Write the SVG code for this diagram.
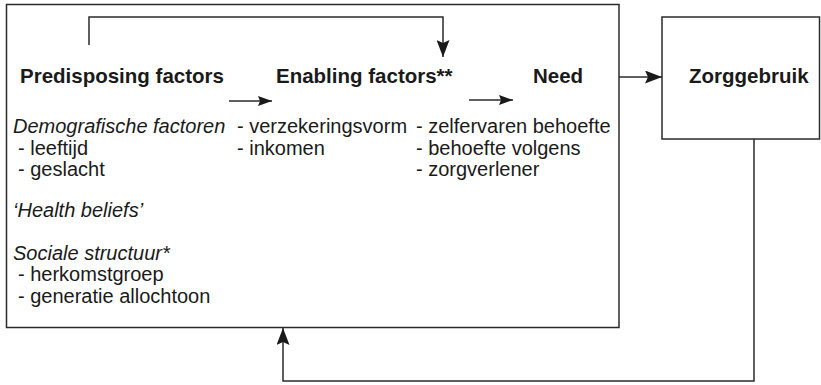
<svg xmlns="http://www.w3.org/2000/svg" width="821" height="385" viewBox="0 0 821 385">
<style>
.box{fill:#fff;stroke:#2b2b2b;stroke-width:1.5}
.ln{fill:none;stroke:#2b2b2b;stroke-width:1.5}
.h{font-family:"Liberation Sans",Arial,sans-serif;font-weight:bold;font-size:20.5px;fill:#1a1a1a}
.t{font-family:"Liberation Sans",Arial,sans-serif;font-size:20px;fill:#1a1a1a}
.i{font-style:italic}
</style>
<defs>
<marker id="ah" markerUnits="userSpaceOnUse" markerWidth="17" markerHeight="13" viewBox="0 0 17 13" refX="17" refY="6.5" orient="auto">
<path d="M0,0 L17,6.5 L0,13 L3,6.5 z" fill="#1a1a1a"/>
</marker>
<marker id="as" markerUnits="userSpaceOnUse" markerWidth="14" markerHeight="10" viewBox="0 0 14 10" refX="14" refY="5" orient="auto">
<path d="M0,0 L14,5 L0,10 L2,5 z" fill="#1a1a1a"/>
</marker>
</defs>
<g id="main">
<rect class="box" x="6.5" y="4.5" width="612.5" height="323"/>
<text class="h" x="20" y="83">Predisposing factors</text>
<text class="h" x="276" y="83">Enabling factors**</text>
<text class="h" x="533" y="83">Need</text>
<text class="t i" x="13" y="133">Demografische factoren</text>
<text class="t" x="18" y="155">- leeftijd</text>
<text class="t" x="18" y="176">- geslacht</text>
<text class="t i" x="13" y="217">‘Health beliefs’</text>
<text class="t i" x="13" y="260">Sociale structuur*</text>
<text class="t" x="18" y="281">- herkomstgroep</text>
<text class="t" x="18" y="303">- generatie allochtoon</text>
<text class="t" x="237" y="133">- verzekeringsvorm</text>
<text class="t" x="237" y="155">- inkomen</text>
<text class="t" x="416" y="133">- zelfervaren behoefte</text>
<text class="t" x="416" y="155">- behoefte volgens</text>
<text class="t" x="416" y="176">- zorgverlener</text>
</g>
<g id="zorggebruik">
<rect class="box" x="662" y="17" width="157.5" height="122"/>
<text class="h" x="689" y="83">Zorggebruik</text>
</g>
<g id="connectors">
<path class="ln" d="M229,101 H272" marker-end="url(#as)"/>
<path class="ln" d="M469,100 H513" marker-end="url(#as)"/>
<path class="ln" d="M89,45 V17 H443 V57" marker-end="url(#ah)"/>
<path class="ln" d="M619,77 H662" marker-end="url(#ah)"/>
<path class="ln" d="M754,139 V381 H283 V328" marker-end="url(#ah)"/>
</g>
</svg>
